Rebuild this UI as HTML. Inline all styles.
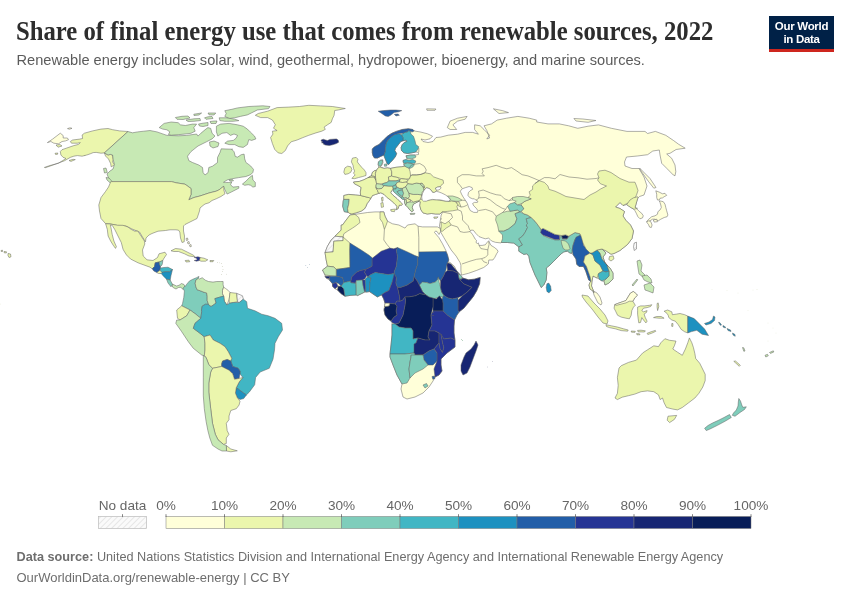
<!DOCTYPE html>
<html><head><meta charset="utf-8">
<style>
html,body{margin:0;padding:0;background:#fff;}
body{width:850px;height:600px;position:relative;overflow:hidden;will-change:transform;font-family:"Liberation Sans",sans-serif;}
.title{position:absolute;left:16px;top:15.8px;font-family:"Liberation Serif",serif;font-weight:bold;font-size:27px;color:#2d2d2d;white-space:nowrap;letter-spacing:0px;transform-origin:0 0;transform:scaleX(0.915);}
.sub{position:absolute;left:16.5px;top:51.5px;font-size:14.6px;color:#5b5b5b;white-space:nowrap;}
.logo{position:absolute;left:769px;top:16px;width:65px;height:36px;background:#002147;}
.logo .bar{position:absolute;left:0;bottom:0;width:65px;height:3px;background:#ce261e;}
.logo .t{position:absolute;left:0;top:4px;width:65px;text-align:center;color:#fff;font-size:11.5px;line-height:13px;font-weight:bold;letter-spacing:-0.3px;}
.foot{position:absolute;left:16.5px;font-size:12.7px;color:#6e6e6e;white-space:nowrap;}
svg{position:absolute;left:0;top:0;}
.lg{font-family:"Liberation Sans",sans-serif;font-size:13.6px;fill:#666;}
</style></head><body>
<div class="title" id="title">Share of final energy use that comes from renewable sources, 2022</div>
<div class="sub" id="sub">Renewable energy includes solar, wind, geothermal, hydropower, bioenergy, and marine sources.</div>
<div class="logo"><div class="t">Our World<br>in Data</div><div class="bar"></div></div>
<svg width="850" height="600" viewBox="0 0 850 600">
<g class="map" stroke="#5e5e5e" stroke-width="0.5" stroke-linejoin="round">
<path d="M56,145 60,144.6 62,146 58,147.2Z" fill="#ebf6ad"/>
<path d="M82,154 86,151.5 88.2,152 85,155.5Z" fill="#ebf6ad"/>
<path d="M69,160.5 73,159.3 75.3,159.6 71,161.4Z" fill="#ebf6ad"/>
<path d="M55,153.3 57.8,153 57.5,154.3 55.5,154.4Z" fill="#ebf6ad"/>
<path d="M103.5,168.5 106,168 107.3,172.5 104.5,173Z" fill="#c7e9b4"/>
<path d="M67.5,128.6 70,127.8 72,128.3 69.5,129.2Z" fill="#ffffd9"/>
<path d="M128,131.5 119.7,130.9 112.6,129.7 108,128.5 100.9,129.1 92.6,130.9 84.4,133.2 82.1,135 82.6,138.5 79.7,139.1 72.6,140 70.3,141.5 71.5,143.2 77.4,143.2 80.3,142.6 78.5,144.4 73.8,145.6 66.8,148 62,149.7 60.3,151.5 60.9,155 63.2,157.4 66,158.5 58.5,163.2 50,165.5 44.4,167.4 45,167.8 52.6,165.2 64.4,160.8 70.3,157.4 73.8,156.2 77.4,155.6 82.1,156.2 86.8,155 90.3,153.8 93.2,152.6 96.2,152.4 100.9,153.2 104.4,152.9Z" fill="#ebf6ad"/>
<path d="M104.4,152.9 108,155 110.3,154.4 112.6,155 113.2,159.7 112.6,162 114.4,164.4 112.6,166.2 111.2,166.8 110.6,163.5 108.5,159 105.5,156Z" fill="#ebf6ad"/>
<path d="M47.4,142.6 52.6,139.1 60.3,133.2 63.2,135.6 63.2,138 67.4,138 68.5,139.7 65.6,140.9 62,141.5 58.5,143.8 53.8,143.2 50.9,141.5Z" fill="#ffffd9"/>
<path d="M128,131.5 132.5,132.8 137.5,131.9 143.8,131.2 150,130.5 157,131.9 167,135.4 178.2,135.8 186.7,135.4 196.6,134 198,136.1 200.8,133.3 205,129.8 207.9,127.6 210.7,128.4 212.1,133.3 215,136.1 212.1,138.9 206.5,141.8 198,146 191,151.6 187.5,156.2 188.8,160.6 192.5,162.5 198.8,165 202.5,167.5 203.1,172.5 205,175 208.1,172.5 208.8,167.5 212.5,166.2 217.5,162.5 217.5,157.5 220,152.5 221.2,148.8 226,149 232.6,149.2 231.8,149.4 234.1,151.8 235.3,156.5 237.6,157.1 241.2,154.7 244.1,154.1 244.7,158.8 245.9,162.4 250.6,165.9 253.5,169.4 252.9,172.4 250.6,174.7 245.9,176.5 238.8,177.6 231.8,178.8 227.1,180 223.5,182.3 225.5,182.4 228.5,182.5 231.8,181.8 230.6,184.7 232.9,187.1 238.8,186.5 238.8,188.2 231.8,191.8 227.1,194.1 225.9,191.8 224.7,189.4 223.5,186.5 218.8,190 216.2,191.2 209,193 200,196 194,197.5 188.8,199.8 191,194.5 191,188.5 185,184.2 176,182.8 171.5,181.6 110.8,181.6 108.5,178 107,174 110,171 113,169 114.4,164.4 113.2,159.7 112.6,155 110.3,154.4 108,155 104.4,152.9Z" fill="#c7e9b4"/>
<path d="M242.4,184.1 245.9,181.2 249.4,177.6 252.4,175.3 252.9,180 255.3,182.4 255.3,186.5 252.9,187.1 250.6,185.3 248.2,184.7 244.7,185.3Z" fill="#c7e9b4"/>
<path d="M229,179.8 232.5,179.5 233.5,180.8 230,181Z" fill="#c7e9b4"/>
<path d="M106,177.5 109,178 113.5,183 114.5,185 112,184.5 107,180Z" fill="#c7e9b4"/>
<path d="M159.2,127.6 164.1,123.4 171.2,122 178.2,122.7 180.4,124.8 185.3,125.5 192.4,124.1 196.6,124.1 193.8,127.6 195.2,131.2 191,133.3 185.3,134 178.2,134.7 171.2,135.2 168.4,134.5 169.8,131.9 166.9,129.8 162.7,129.1Z" fill="#c7e9b4"/>
<path d="M216.4,126.2 220.6,124.1 229.1,123.4 237.5,124.8 243.2,126.2 247.4,129.1 250.2,131.9 254.5,136.1 255.9,138.9 251.7,140.4 248.8,139.6 247.4,144.6 243.2,147.4 238.9,146.7 234.7,144.6 229.1,144.6 224.8,143.2 227.6,141.1 233.3,140.4 236.1,138.2 237.5,135.4 234,134 230.5,135.4 226.9,132.6 222,133.3 217.8,136.1 216.4,131.9Z" fill="#c7e9b4"/>
<path d="M224.8,110.7 231.9,109.3 237.5,107.9 248.8,106.5 262.9,105.8 270,106.5 268.6,108.6 257.3,110 251.7,112.8 247.4,114.9 240.4,116.4 234.7,117.8 229.1,118.5 224.8,116.4 226.2,113.5Z" fill="#c7e9b4"/>
<path d="M219.2,117.8 226.2,117.8 234.7,119.2 238.9,120.6 233.3,121.3 224.8,121.3 219.9,120.6Z" fill="#c7e9b4"/>
<path d="M175.4,117.5 182,116.3 188,116 190,118 183,119.5 177,119.3Z" fill="#c7e9b4"/>
<path d="M186,120 194,118.8 200,118.5 200.5,120.5 194,121.3 188,121.5Z" fill="#c7e9b4"/>
<path d="M204.5,117.8 208,116.8 212,116.5 213,118.5 206,119.3Z" fill="#c7e9b4"/>
<path d="M198.5,124 203,123.2 208,122.5 208,125.5 203,126.5 199.5,126Z" fill="#c7e9b4"/>
<path d="M210,121.5 214,121 217,121 216,123.5 211,123.5Z" fill="#c7e9b4"/>
<path d="M193.8,114.2 201.6,113 199,115 194,115.5Z" fill="#c7e9b4"/>
<path d="M208,113 215.8,113 214,115 209,114.8Z" fill="#c7e9b4"/>
<path d="M209.5,142 214,141 219,143 218,146.5 213,148 210,146Z" fill="#c7e9b4"/>
<path d="M110.8,181.6 171.5,181.6 176,182.8 185,184.2 191,188.5 191,194.5 188.8,199.8 194,197.5 200,196 209,193 216.2,191.2 218.8,190 223.8,186.2 223.8,190 225,193.8 221,196.5 216.2,198.8 212,200.5 209,202.8 205,204 203,205.5 200,208 199.5,211 198.5,214 197,218.5 191,221.5 185,224.5 183.5,226 183.5,231 184.5,236 184.2,241.8 182,242.5 180.5,238 179.8,232 178.5,230.2 176,229.8 170,229.8 165.5,230.5 158,231.2 152,233.5 149,235 146,238 145.5,241.8 144,239.5 139.5,232 132,229 126,226 117.5,225.5 110,223.8 105.6,223.7 101,218.5 99.5,211 98.8,205 101,197.5 105.5,191.5 108.5,187Z" fill="#ebf6ad"/>
<path d="M105.6,223.7 110,224 117.5,225.2 123,225.3 127.9,227 131.2,229.4 134.5,231.1 137.8,231.1 141.1,236 144.4,241 144.8,244 142.5,250 143.2,256 147,259.8 153,260.5 157.5,257.5 159,253.8 165,252.2 166.5,254.5 163.5,259 162.8,260.5 159.8,262 159,262 155.2,262.8 154.5,266.5 152.2,268.8 150,267.2 144,265 138,262.8 130.5,259 126.5,255 124,251 123,249.2 121.3,242.6 118,236 114.7,229.4 112.2,225.3 110.3,225 111,227.8 112.2,234.4 113.9,241 116.4,246.7 115.5,248.4 113.1,245.1 110.6,241 108.1,236 107.3,229.4Z" fill="#ebf6ad"/>
<path d="M155.2,262.8 159,262 159.8,265 160.5,266.5 160.5,268 159.8,270.2 159,271 156.8,272.5 153.8,271 152.2,268.8 154.5,266.5Z" fill="#225ea8"/>
<path d="M159,262 162.8,260.5 162.5,263 162,265 160.5,266.5 159.8,265Z" fill="#7fcdbb"/>
<path d="M160.5,268 164,267.5 168,267.2 172.5,269.5 169.5,271.8 165,271.8 162,272.5 159.8,270.2Z" fill="#41b6c4"/>
<path d="M156.8,272.5 159,271 159.8,270.2 162,272.5 161.2,273.5 158.5,273.5Z" fill="#ebf6ad"/>
<path d="M162,272.5 165,271.8 169.5,271.8 172.5,269.5 171,275.5 170.2,280 166.5,279.2 163.5,276.2 161.2,273.5Z" fill="#1d91c0"/>
<path d="M166.5,279.2 170.2,280 172.5,284.5 171,286.8 168,283Z" fill="#7fcdbb"/>
<path d="M172.3,284 174,284.8 176.5,286 179,285.3 181.5,283.5 184,284.5 185.1,286.6 184.5,288.5 182.5,289.2 181,287.2 178.5,287.5 176,289 174,288 172.5,287Z" fill="#c7e9b4"/>
<path d="M171,250.8 175.5,248.5 181.5,249.2 187.5,252.2 193.5,255.2 195,256.8 189,256 184.5,253.8 178.5,251.5 174,251.5Z" fill="#ebf6ad"/>
<path d="M194.2,257.5 198,256.8 200.2,257.5 199.5,260.5 196.5,261.2 194.2,260.5 197.2,259.8 196.5,258.2Z" fill="#253494"/>
<path d="M200.2,257.5 204,258.2 207.8,259.8 205.5,261.2 201,261.2 199.5,260.5Z" fill="#ebf6ad"/>
<path d="M185.2,260.5 189,260.2 189.8,261.7 186,262Z" fill="#ebf6ad"/>
<path d="M210,260.5 213.8,260.5 213,261.7 210,261.7Z" fill="#ebf6ad"/>
<circle cx="219.5" cy="262.8" r="0.4" fill="#b9bba5" stroke="none"/>
<circle cx="221.3" cy="263.5" r="0.4" fill="#b9bba5" stroke="none"/>
<circle cx="222.3" cy="266.5" r="0.4" fill="#b9bba5" stroke="none"/>
<circle cx="223.0" cy="269.5" r="0.4" fill="#b9bba5" stroke="none"/>
<circle cx="222.5" cy="271.5" r="0.4" fill="#b9bba5" stroke="none"/>
<circle cx="221.5" cy="274.5" r="0.4" fill="#b9bba5" stroke="none"/>
<circle cx="226.5" cy="274.2" r="0.4" fill="#b9bba5" stroke="none"/>
<circle cx="217.5" cy="262.5" r="0.4" fill="#b9bba5" stroke="none"/>
<path d="M1,250.5 2.5,250.2 2.5,251.5 1.2,251.5Z" fill="#ebf6ad"/>
<path d="M4,251.5 6.5,251.8 6.3,253 4.2,252.8Z" fill="#ebf6ad"/>
<path d="M8,253.5 10.5,254 11,256.8 9,257.5 8,255.5Z" fill="#ebf6ad"/>
<path d="M186,238.5 187.5,238 188,240 186.5,240.5Z" fill="#ffffd9"/>
<path d="M187.5,242 189,241.5 189.5,243.5 188,244Z" fill="#ffffd9"/>
<path d="M189.5,245 191,244.5 191.3,246.5 190,246.8Z" fill="#ffffd9"/>
<path d="M185.1,286.6 186.3,284.7 189.5,280.9 192.7,279.3 196.5,277.7 199,276.4 198.4,278.3 195.8,280.2 195.2,283.4 195.8,286.6 197.1,289.7 200.9,291 204.1,292.3 206.6,292.9 207.2,296.1 207.2,300.5 208.5,304.3 205.3,304.3 202.2,306.2 201.5,310 201.7,311.7 200.8,318.3 195.8,314.2 190,310 181.7,305.8 182.5,303.7 183.8,297.3 184.4,291 183,288.2 184.5,286.5Z" fill="#7fcdbb"/>
<path d="M199.6,279 202.2,277.7 205.3,280.2 208.5,281.5 213,282.1 216.8,281.5 220.6,281.5 223.1,281.5 223.1,284.7 223.7,287.2 222.5,290.4 222.5,293.5 223.7,296.1 219.3,297.3 214.9,298.6 216.1,303 211.7,306.2 209.8,306.2 208.5,304.3 207.2,300.5 207.2,296.1 206.6,292.9 204.1,292.3 200.9,291 197.1,289.7 195.8,286.6 195.2,283.4 195.8,280.2 198.4,278.3Z" fill="#c7e9b4"/>
<path d="M223.7,287.2 225.6,288.5 228.2,290.4 230,292.5 229.2,299.2 226.9,305 224.4,301.2 223.7,296.1 222.5,293.5 222.5,290.4Z" fill="#ffffd9"/>
<path d="M230,292.5 236.7,293.3 237.5,301.7 233.3,302.5 229.2,303.3 229.2,299.2Z" fill="#ebf6ad"/>
<path d="M236.7,293.3 242.5,295.8 243.3,299.2 239.2,302.5 237.5,301.7Z" fill="url(#hatch)"/>
<path d="M181.7,305.8 190,310 186.7,315.8 180,320 177.5,318.3 176.7,310Z" fill="#ebf6ad"/>
<path d="M176.7,320 180,320 186.7,315.8 190,310 195.8,314.2 200.8,318.3 195,323.3 193.3,328.3 200,333.3 204.2,336.7 205,343.3 205,350 204.3,355.8 203.3,355.5 201.7,355 193.3,348.3 188.3,341.7 181.7,331.7 175.8,323.3Z" fill="#c7e9b4"/>
<path d="M200.8,318.3 201.7,311.7 201.5,310 202.2,306.2 205.3,304.3 208.5,304.3 209.8,306.2 211.7,306.2 216.1,303 214.9,298.6 219.3,297.3 223.7,296.1 224.4,301.2 226.9,305 229.2,303.3 233.3,302.5 239.2,302.5 243.3,299.2 246.7,301.7 247.5,308.3 255,310.8 261.7,314.2 268.3,315.8 275,318.3 281.7,323.3 282.5,330 278.3,336.7 275,343.3 274.5,350 273,359.2 269.3,368.3 260.2,372 255.6,377.5 254.7,384.8 249.2,392.2 246.4,394.9 243.7,393.1 236.3,387.6 239.1,382.1 242.8,377.5 240,373.8 240,371.1 238.2,368.3 235.4,367.4 232.7,366.5 230.8,361 231.7,358.3 228.3,351.7 225,346.7 220,343.3 213.3,340 210,335 204.2,336.7 200,333.3 193.3,328.3 195,323.3Z" fill="#41b6c4"/>
<path d="M204.2,336.7 210,335 213.3,340 220,343.3 225,346.7 228.3,351.7 231.7,358.3 230.8,361 227.2,359.5 222.6,361 221.7,363.8 221.7,366.5 212.5,368.3 208.8,364.7 206,357.3 204.3,355.8 205,350 205,343.3Z" fill="#ebf6ad"/>
<path d="M222.6,361 227.2,359.5 230.8,361 232.7,366.5 238.2,368.3 240,371.1 240,373.8 239.1,378.4 234.5,379.3 232.7,373.8 229,370.2 223.5,367.4 221.7,366.5 221.7,363.8Z" fill="#225ea8"/>
<path d="M236.3,387.6 243.7,393.1 246.4,394.9 243.7,398.6 240,399.5 237.3,397.7 235.4,393.1Z" fill="#1d91c0"/>
<path d="M212.5,368.3 221.7,366.5 223.5,367.4 229,370.2 232.7,373.8 234.5,379.3 239.1,378.4 242.8,377.5 239.1,382.1 236.3,387.6 235.4,393.1 237.3,397.7 240,401.3 239.1,405 236.3,408.7 230.8,410.5 229,416 229,419.7 226.3,423.3 227.2,430.7 229,434.3 226.3,438 226.3,443.5 223.5,444.4 218,439.8 215.3,434.3 212.5,423.3 210.7,408.7 208.8,392.2 208.8,383 210.7,372Z" fill="#ebf6ad"/>
<path d="M226.3,445.5 230.8,449 237.3,450.8 230.8,451.8 226.5,451Z" fill="#ebf6ad"/>
<path d="M203.3,355.5 206,357.3 208.8,364.7 212.5,368.3 210.7,372 208.8,383 208.8,392.2 210.7,408.7 212.5,423.3 215.3,434.3 218,439.8 223.5,444.4 226.3,445.5 226.5,451 222,451 218,449 212.5,445.3 209.8,438 207.9,430.7 206.1,421.5 204.3,408.7 203.3,395.8 203.3,377.5 203.3,359.2Z" fill="#c7e9b4"/>
<path d="M615,398 617.4,393.3 618.2,385.4 617.4,377.5 619,368 621.4,365.6 628.5,362.4 636.4,360.1 642.7,352.9 647.5,349.8 653.8,345.8 658.5,346.6 660.9,342.7 664.9,338.7 669.6,340.3 676,341.1 674.4,345.8 672.8,349 677.5,352.2 682.3,355.3 685.4,349 687.8,342.7 689.4,337.9 691.8,342.7 693.4,347.4 694.9,353.7 695.7,358.5 699.7,363.2 702.1,368 705.2,374.3 705.2,380.6 702.8,387 698.9,393.3 694.9,398 688.6,402.8 682.3,407.5 677.5,409.9 672.8,409.1 666.5,407.5 664.1,402.8 662.5,398 660.1,399.6 658.5,394.9 653.8,391.7 647.5,390.9 641.1,391.7 634.8,394.1 628.5,395.7 622.2,397.2 617.4,399.6Z" fill="#ebf6ad"/>
<path d="M668,416.2 676.7,415.4 674.4,419.4 669.6,422.6 667.2,420.2Z" fill="#ebf6ad"/>
<path d="M738.8,398.5 740.5,401 741.8,405 742.8,407.3 746.3,406.8 744.5,409.5 740,412.5 735,416.3 732.3,415.3 733.5,413 736.3,410 738,406 738.3,402Z" fill="#7fcdbb"/>
<path d="M729.5,414.5 731.3,417.5 725,421.3 717.5,425.3 710,429 706.3,430.6 704.6,428.3 708,425.5 712.5,423 718,420.5 724,417.5Z" fill="#7fcdbb"/>
<path d="M733.8,361.3 735.5,361 740.3,365.3 739.3,366.3Z" fill="#ebf6ad"/>
<path d="M742.5,347.5 743.8,347.8 745,351 743.8,351.3Z" fill="#c7e9b4"/>
<path d="M765,355.3 767.5,354.3 768.3,355.8 765.8,357Z" fill="#c7e9b4"/>
<path d="M769.5,352.5 773.3,350.8 773.8,352 770.5,353.4Z" fill="#c7e9b4"/>
<circle cx="712" cy="289.5" r="0.35" fill="#cfd6b0" stroke="none"/>
<circle cx="727" cy="290.5" r="0.35" fill="#cfd6b0" stroke="none"/>
<circle cx="738" cy="293" r="0.35" fill="#cfd6b0" stroke="none"/>
<circle cx="753" cy="290" r="0.35" fill="#cfd6b0" stroke="none"/>
<circle cx="757" cy="289.7" r="0.35" fill="#cfd6b0" stroke="none"/>
<circle cx="748" cy="310.5" r="0.35" fill="#cfd6b0" stroke="none"/>
<circle cx="768" cy="323" r="0.35" fill="#cfd6b0" stroke="none"/>
<circle cx="773" cy="328" r="0.35" fill="#cfd6b0" stroke="none"/>
<circle cx="776" cy="333" r="0.35" fill="#cfd6b0" stroke="none"/>
<circle cx="768" cy="341" r="0.35" fill="#cfd6b0" stroke="none"/>
<circle cx="0.6" cy="304" r="0.35" fill="#cfd6b0" stroke="none"/>
<path d="M267.6,111.2 277.1,107.6 288.8,107.1 299.4,106.5 308.8,105.3 320.6,105.9 332.4,106.5 345.3,108.5 338.2,110 334.7,110.5 334.1,115.3 332.4,118.8 331.2,122.4 327.6,124.7 324.1,127.1 325.3,129.4 321.8,131.2 315.9,132.9 308.8,135.3 302.9,137.6 297.1,140 291.2,141.8 287.6,145.9 285.3,150.6 281.8,153.5 278.2,152.9 274.7,149.4 272.4,143.5 270.6,137.6 272.9,134.1 272.4,131.2 277.1,130.6 273.5,128.2 275.3,124.7 272.4,120 267.6,117.6 260.6,117.6 255.3,115.3 258.2,113.5Z" fill="#ebf6ad"/>
<path d="M349.7,213.4 348.1,212.3 344.3,211.7 342.7,206.3 343.2,200.9 343.8,199.3 343.8,197.7 343.8,195.5 348.7,194.4 355.2,195 360.6,195.5 360.3,192 361.2,187.5 358,185.5 354.5,183.8 353.5,182 359.5,181.4 363.8,179.8 368.2,177.6 371.4,175.8 372.5,172.2 374.7,170.6 376.5,170.2 378.7,167.3 378.1,164.1 378.7,161.9 380.3,160.3 382.5,159.7 383,162.5 381.9,165.2 380.3,166.8 384.1,168.4 387.3,167.9 390.6,168.4 396,167.3 401.4,166.8 404.7,166.2 403.6,164.6 403.6,163.5 403,160.8 405.7,159.7 406.8,158.7 406,155.8 410.5,155 415,155 418.5,154.5 418.5,152.5 415.8,152 412,152.8 407.5,153.5 403.8,152.8 401.5,150.5 401.1,147.5 402.3,144.5 404.5,142.3 406.8,141.5 406,140 403,140.8 400.8,141.5 398.5,144.5 395.5,148.3 394.8,150.5 396.6,153.5 395.5,156.5 392.5,160.3 390.3,162.5 388.8,164.4 387.3,164 385.8,160.3 384.3,156.5 383.9,155 380.5,156.5 377.5,158 374.5,158 373,155.8 372.3,152.8 372.3,149 374.5,146.8 379,144.5 382.8,140.8 387.3,136.3 391.8,133.3 396.3,131.4 402.3,129.5 408.3,128.8 412.8,129.5 414.3,131 420,131.9 427.5,133.8 432.5,136.2 430,138.8 425,140 421,139 423,141.5 428,142.5 433,141.5 436,137.5 440.7,137.1 448.2,135.2 457.6,134.2 465.2,132.4 472.7,132.4 478.4,134.2 474.6,129.5 474.6,124.8 480.2,125.8 484,129.5 489.6,135.2 486.8,138.9 489.6,138 486.8,130.5 484,125.8 491.5,123.9 497.2,120.1 506.6,118.2 517.9,116.4 529.2,118.2 536.7,120.1 536.7,122 548,123.9 559.3,123.9 568.7,125.8 577.8,128.3 588.1,126.2 598.5,124.9 611.4,128.3 626.9,131.4 645,131.4 647.6,133.5 655.4,131.4 665.8,135.3 673.5,140.5 678.7,144.3 685.2,148.2 676.1,149.5 670,153.3 666.7,154 671.7,158.3 675,165 675.8,171.7 675,175.8 673.3,175 666.7,168.3 661.7,163.3 660,155 659.3,150 652.8,151 647.6,154.7 637.3,156 626.5,157 624.5,162 625,166 632,168.5 639,168.5 644,177 647,186 644,195 639.5,196.5 638,198 637.9,197.9 636.7,201.7 635.8,205 635,207.5 636.7,208.8 639.2,211.3 641.7,213.3 643.3,215.8 642.5,217.9 640,218.8 637.9,216.7 636.3,213.3 635,210.8 633.3,208.8 630.8,207.5 628.3,205.8 626.7,204.6 623,205.5 620,202.5 615.5,207 620,208.5 624.5,211.5 623,216 626,220.5 630.5,225 633.5,231 632,238.5 627.5,244.5 620,250.5 614,253.5 611,254.2 606.5,251.2 602,249 606,253 603,257 605,263 610,268 613,273 613,279 609,283 605,285 604,281 602,281 599,279 597,278 593,276 592,281 591.5,286 593.5,291 597,293 600,297 602,303 601,305 598,303 596,299 594,295 593,291 590,289 589,285 591,281.5 588.7,280 585.7,271 583.5,266.5 579,266.5 576.7,264.2 576,259 573,254.5 572,253.5 570,253.1 567.5,251.2 563.8,251.9 561.2,253.8 558.8,256.2 553.8,261.2 550,265 546.2,268.1 546.9,272.5 546.2,280 543.8,285 541.2,287.5 537.5,280 535,275 532.5,268.8 530,262.5 528.8,256.2 526.9,253.8 523.8,254.4 518.8,251.2 518.8,246.9 513.8,243.1 507.5,242.5 501.2,242.5 500.5,242.9 495.4,242.3 491.6,241 490.4,239.7 488.5,238.1 485.3,238.8 482.2,237.8 479,236.6 475.8,233.4 473.3,230.2 470.8,230.2 470.1,231.5 472.7,234.7 475.2,239.1 476.5,240.4 476,242.5 477.5,243.5 478.4,242.9 479,245.4 482.2,245.4 485.3,244.8 487.2,242.3 488.8,240.7 489.7,242.9 491,245.4 494.2,247.3 497.3,249.8 498,251.7 496.7,253.6 494.8,257.4 492.9,260 488.8,260 488.3,264 483.7,267.5 476.7,270.4 468.5,273.3 461.5,275.1 460.9,271 460.9,265.2 460,262.5 456.2,256.2 451.2,250 447.5,243.8 443.8,237.5 440.6,231.9 440.3,229 439.4,226.2 440,222.5 440.6,218.8 441.2,215 441.9,213.8 442.1,211.9 439.9,214 435.7,214 431.5,213.5 427.2,214 423,212.9 420.9,209.8 419.8,205.5 420.4,201.8 419.5,200.8 415.5,203.1 413.3,204.2 412.2,207.4 413.3,210.7 411.7,211.7 409.5,209.6 407.9,207.4 405.7,205.2 404.7,203.1 404.4,201 404.7,199.3 402.5,199.3 401.4,198.2 398.2,195.5 395.5,193.3 393.3,191.2 393.3,189 391.7,190.6 390.6,192.8 393.3,195.5 397.1,198.7 400.3,202 402.5,204.2 401.4,205.2 399.2,205.2 398.2,208.5 396.5,209.6 397.1,206.3 394.9,204.2 391.7,200.9 387.3,197.7 384.1,194.4 380.8,192.8 378.9,193.3 375.7,194.4 372.5,195.5 370.9,198.2 369.2,200.9 367.1,203.6 366,206.3 364.4,209 361.1,211.2 356.2,212.8 351.9,213.9Z" fill="#ffffd9"/>
<path d="M343.8,199.3 349.2,199.3 348.7,204.2 347.6,208.5 348.1,212.3 344.3,211.7 342.7,206.3 343.2,200.9Z" fill="#7fcdbb"/>
<path d="M343.8,195.5 348.7,194.4 355.2,195 360.6,195.5 364.9,196.6 369.2,197.7 370.9,198.2 369.2,200.9 367.1,203.6 366,206.3 364.4,209 361.1,211.2 356.2,212.8 351.9,213.9 349.7,213.4 348.1,212.3 347.6,208.5 348.7,204.2 349.2,199.3 343.8,199.3 343.8,197.7Z" fill="#ebf6ad"/>
<path d="M353.5,182 359.5,181.4 363.8,179.8 368.2,177.6 371.4,175.8 374.3,177.1 376,180.3 376.5,183.6 376,185.7 376,187.9 377.6,190.6 378.1,192.2 378.9,193.3 375.7,194.4 372.5,195.5 370.9,198.2 369.2,197.7 364.9,196.6 360.6,195.5 360.3,192 361.2,187.5 358,185.5 354.5,183.8Z" fill="#ebf6ad"/>
<path d="M368.2,177.6 371.4,175.8 373.5,176 375.5,177 376,180.3 374.3,177.1Z" fill="#ebf6ad"/>
<path d="M371.4,175.8 372.5,172.2 374.7,170.6 376.5,170.4 375.4,173.3 375.5,177 373.5,176Z" fill="#ebf6ad"/>
<path d="M376.5,170.2 378.7,167.3 380.3,167.3 384.1,168.4 387.3,167.9 390.6,168.4 391.7,171.7 391.7,176 388.4,177.1 389,180.9 386.8,182.5 383,183.6 379.7,184.1 376.5,183.6 376,180.3 375.5,177 375.4,173.3Z" fill="#ebf6ad"/>
<path d="M378.3,161.8 380.5,160.3 382.8,160.3 382.4,162.5 381.3,165.5 379.4,166.3 378.3,164.8Z" fill="#7fcdbb"/>
<path d="M390.6,168.4 396,167.3 401.4,166.8 404.7,166.2 406.8,166.2 409,168.4 410.1,171.7 410.6,176 409.5,178.7 405.7,179.2 401.4,178.7 398.2,177.6 392.7,176.5 391.7,176 391.7,171.7Z" fill="#ebf6ad"/>
<path d="M388.4,177.1 391.7,176 392.7,176.5 398.2,177.6 399.8,179.8 396,180.9 391.7,180.9 389,180.9Z" fill="#ebf6ad"/>
<path d="M399.8,179.8 401.4,178.7 405.7,179.2 408.4,179.8 406.8,182 402.5,182.5 399.2,182Z" fill="#ebf6ad"/>
<path d="M383,183.6 386.8,182.5 389,180.9 391.7,180.9 396,180.9 399.8,179.8 399.2,182 397.1,182.5 396,184.7 392.7,186.3 388.4,186.3 384.1,185.7 381.9,184.7Z" fill="#7fcdbb"/>
<path d="M376.5,183.6 379.7,184.1 381.9,184.7 384.1,185.7 381.9,188.4 378.7,189 376,187.9 376,185.7Z" fill="#c7e9b4"/>
<path d="M376,187.9 378.7,189 381.9,188.4 384.1,185.7 388.4,186.3 392.7,186.3 393.3,189 391.7,190.6 390.6,192.8 393.3,195.5 397.1,198.7 400.3,202 402.5,204.2 401.4,205.2 399.2,205.2 398.2,208.5 396.5,209.6 397.1,206.3 394.9,204.2 391.7,200.9 387.3,197.7 384.1,194.4 380.8,192.8 378.9,193.3 378.1,192.2 377.6,190.6Z" fill="#ebf6ad"/>
<path d="M392.7,186.3 396,184.7 396.5,186.8 396,189 393.3,189Z" fill="#7fcdbb"/>
<path d="M397.1,182.5 399.2,182 402.5,182.5 406.8,182 407.9,183.6 405.7,186.8 402.5,188.4 399.2,188.4 396.5,186.8 396,184.7Z" fill="#ebf6ad"/>
<path d="M393.3,189 396,189 396.5,186.8 399.2,188.4 402.5,188.4 402.5,189.5 399.2,190.6 397.1,191.7 399.2,194.4 402.5,197.7 401.4,198.2 398.2,195.5 395.5,193.3 393.3,191.2Z" fill="#7fcdbb"/>
<path d="M397.1,191.7 399.2,190.6 402.5,190.1 403.6,193.3 402.5,196.6 399.2,194.4Z" fill="#7fcdbb"/>
<path d="M402.5,189.5 402.5,188.4 405.7,186.8 407.4,190.1 409,193.3 409.5,196.6 407.9,198.7 405.7,197.7 403.6,197.7 402.5,196.6 403.6,193.3 402.5,190.1Z" fill="#c7e9b4"/>
<path d="M402.5,196.6 403.6,197.7 404.7,199.3 402.5,199.3 401.4,198.2Z" fill="#7fcdbb"/>
<path d="M404.7,199.3 406.3,199.8 406.8,203.1 405.7,205.2 404.7,203.1 404.4,201Z" fill="#c7e9b4"/>
<path d="M406.3,199.8 405.7,197.7 407.9,198.7 410.6,199.8 410.1,202 407.4,202.5 406.8,203.1Z" fill="#ebf6ad"/>
<path d="M406.8,203.1 407.4,202.5 410.1,202 413.3,202 417.7,200.9 419.5,200.8 415.5,203.1 413.3,204.2 412.2,207.4 413.3,210.7 411.7,211.7 409.5,209.6 407.9,207.4 405.7,205.2Z" fill="#c7e9b4"/>
<path d="M409,193.3 413.3,194.4 417.7,194.4 422,194.9 420.9,197.7 419.8,200.4 417.7,200.9 413.3,202 410.6,199.8 407.9,198.7 409.5,196.6Z" fill="#ebf6ad"/>
<path d="M407.9,183.6 412.2,184.1 416.6,183 419.8,183.6 423.1,186.8 424.2,190.1 422,192.2 422,194.9 417.7,194.4 413.3,194.4 409,193.3 407.4,190.1 405.7,186.8Z" fill="#c7e9b4"/>
<path d="M419.8,183.6 422,183 424.2,185.7 424.7,187.9 423.1,186.8Z" fill="#c7e9b4"/>
<path d="M409.5,178.7 410.6,176 411.7,174.9 416.6,174.9 420.9,174.4 425.2,172.7 427.2,173.2 430.4,173.8 433.6,176.9 439.9,179.1 443.1,180.1 443.6,183.3 441,185.4 440.4,186.7 437.6,187.1 435.1,188.5 436.9,190.2 436.2,191.3 434.4,192.4 432.6,192.4 430.9,189.9 429.1,188.5 426.6,187.8 424.2,189.9 424.2,190.1 423.1,186.8 424.7,187.9 424.2,185.7 422,183 419.8,183.6 416.6,183 412.2,184.1 407.9,183.6 406.8,182 408.4,179.8Z" fill="#ebf6ad"/>
<path d="M404.5,163.6 407.5,162.9 412,163.6 414.3,164.8 412.8,167 409.8,168.5 406,167 404.1,165.5Z" fill="#7fcdbb"/>
<path d="M403,160.3 406,159.5 409,160.3 412.8,159.5 415.8,161 415,163.3 412,163.3 407.5,162.5 404.5,163.3 403.4,162.5Z" fill="#41b6c4"/>
<path d="M406,155.8 410.5,155 415,155 416,157 414.3,158 411.3,158.8 407.5,158.8Z" fill="#7fcdbb"/>
<path d="M403,133.3 405.3,132.1 407.5,131.8 408.3,130.6 410.5,131 410.9,134 413.5,136.3 415,140.8 415.8,144.5 418.8,146.8 418,149 415.8,152 412,152.8 407.5,153.5 403.8,152.8 401.5,150.5 401.1,147.5 402.3,144.5 404.5,142.3 406.8,141.5 406,140 403,140.8 403,137.8 401.5,134.8Z" fill="#41b6c4"/>
<path d="M385.4,147.5 386.1,143 388,140 391,137 394.8,134.4 398.5,133.6 401.5,134.8 403,137.8 403,140.8 400.8,141.5 398.5,144.5 395.5,148.3 394.8,150.5 396.6,153.5 395.5,156.5 392.5,160.3 390.3,162.5 388.8,164.4 387.3,164 385.8,160.3 384.3,156.5 383.9,155 385,152Z" fill="#1d91c0"/>
<path d="M372.3,149 374.5,146.8 379,144.5 382.8,140.8 387.3,136.3 391.8,133.3 396.3,131.4 402.3,129.5 408.3,128.8 412.8,129.5 414.3,131 412,132.1 410.5,131 408.3,130.6 407.5,131.8 405.3,132.1 403,133.3 398.5,133.6 394.8,134.4 391,137 388,140 386.1,143 385.4,147.5 385,152 383.9,155 380.5,156.5 377.5,158 374.5,158 373,155.8 372.3,152.8Z" fill="#225ea8"/>
<path d="M418.4,201.6 420.5,199.3 422.5,199.2 425.1,200.8 430.4,199.7 436.8,199.7 443.1,200.8 448.4,201.3 451.6,200.8 455.8,201.8 457.9,204.5 456.9,206.6 457.9,209.8 452.6,210.8 447.4,211.4 442.1,211.9 439.9,214 435.7,214 431.5,213.5 427.2,214 423,212.9 420.9,209.8 419.8,205.5 420.4,201.8Z" fill="#ebf6ad"/>
<path d="M447.4,196 452.6,196 457.9,197.6 462.2,200.2 459,201.3 455.8,201.3 451.6,200.8 448.4,201.3 450.5,199.2Z" fill="#c7e9b4"/>
<path d="M455.8,201.8 459,201.8 460.1,204.5 461.1,207.1 457.9,205.5 457.9,204.5Z" fill="#ebf6ad"/>
<path d="M441.2,221.9 445,223.8 448.8,221.2 451.2,225 446.2,228.1 442.5,231.2 440.6,231.2 441.2,226.2Z" fill="#ebf6ad"/>
<path d="M496.2,216.2 502.5,212.5 507.5,211.2 510,211.2 513.8,210.6 517.5,210 520,211.9 515,213.8 516.9,218.8 515,223.8 508.8,228.8 503.8,231.2 498.8,231.2 497.5,225 495.6,220Z" fill="#c7e9b4"/>
<path d="M498.8,231.2 503.8,231.2 508.8,228.8 515,223.8 516.9,218.8 515,213.8 520,211.9 523.8,213.8 527.5,215 531.2,217.5 526.2,218.8 527.5,223.8 526.2,225 527.5,227.5 525,232.5 522.5,236.2 518.8,238.8 522.5,245 518.8,246.9 513.8,243.1 507.5,242.5 501.2,242.5 502.5,238.8 502.5,235Z" fill="#7fcdbb"/>
<path d="M531.2,217.5 535,221.2 538.8,226.2 541.2,230 541,233 543,235.5 549,238 555,240 559.5,240 560.5,235.6 561.5,235.6 562.5,239.2 567,239.2 568.8,236.2 575,232.5 580,233.8 580.5,235 575,239 573,245.5 572.2,250 572,253 570,253.1 567.5,251.2 563.8,251.9 561.2,253.8 558.8,256.2 553.8,261.2 550,265 546.2,268.1 546.9,272.5 546.2,280 543.8,285 541.2,287.5 537.5,280 535,275 532.5,268.8 530,262.5 528.8,256.2 526.9,253.8 523.8,254.4 518.8,251.2 518.8,246.9 522.5,245 518.8,238.8 522.5,236.2 525,232.5 527.5,227.5 526.2,225 527.5,223.8 526.2,218.8Z" fill="#7fcdbb"/>
<path d="M561,240.2 565.5,241 568.5,244 570,248.5 568.5,250 565.5,250 563.2,248.5 561.7,244Z" fill="#c7e9b4"/>
<path d="M541.5,229.2 543,228.4 549,231.4 555,234.4 559.5,235.2 559.5,239.5 555,239.5 549,237.2 543,235 540.7,232.7Z" fill="#253494"/>
<path d="M561.7,235.7 565.5,235 568.5,236.5 567,238.7 562.5,238.7Z" fill="#081d58"/>
<path d="M576,237.2 580.5,235 582.7,239.5 583.5,245.5 588,250 591,253 585,256 583.5,262 586.5,266.5 588,271 590.2,277 591,281.5 588.7,280 585.7,271 583.5,266.5 579,266.5 576.7,264.2 576,259 573,254.5 572.2,250 573,245.5 574.5,241Z" fill="#225ea8"/>
<path d="M585,256 590,253 593,255 595,261 600,265 603,271 599,273 597,278 593,276 592,281 591.5,286 593.5,291 594,293 593,291 590,289 589,285 590,282 591,281.5 590.2,277 588,271 586.5,266.5 583.5,262Z" fill="#ebf6ad"/>
<path d="M590,253 592,253 597,250 600,253 602,259 607,265 609,271 606,272 603,271 600,265 595,261 593,255Z" fill="#1d91c0"/>
<path d="M597,250 602,249 606,253 603,257 605,263 610,268 613,273 613,279 609,283 605,285 604,281 606,279 609,276 609,271 607,265 602,259 600,253Z" fill="#c7e9b4"/>
<path d="M598,274 603,271 606,272 609,271 609,276 606,279 602,281 599,279Z" fill="#41b6c4"/>
<path d="M539.1,180.6 544.4,182.4 547.9,185.9 549.1,189.4 555,191.2 560,193.5 566,196.5 575,198 584,199.5 590,195 596,192 600.5,189 606.5,186 600.5,183.8 597.5,180 599,177.8 597.5,174 599,171 605,170.2 611,172.5 620,178.5 629,182.2 635,182.2 636.5,186 638,190.5 636.5,195 635,198 633.5,199.5 630.5,201.8 626,204 623,205.5 620,202.5 615.5,207 620,208.5 624.5,211.5 623,216 626,220.5 630.5,225 633.5,231 632,238.5 627.5,244.5 620,250.5 614,253.5 611,254.2 606.5,251.2 602,249 597,250 592,253 590,253 586,249 583,243 581,236 580,233.8 575,232.5 568.8,236.2 565.5,234.8 561.7,235.5 559.5,235.2 555,234.4 549,231.4 543,228.4 541.2,229.5 538.8,226.2 535,221.2 531.2,217.5 527.5,215 523.8,213.8 521.2,211.2 523.8,208.8 521.2,205 521.2,203.8 525,201.2 531.2,198.8 527.9,197.6 530.3,195.3 529.1,191.8 532.6,189.4 532.6,185.9 535,183.5Z" fill="#ebf6ad"/>
<path d="M626.7,204.6 630,200 633.3,197.9 637.5,196.7 637.9,197.9 636.7,201.7 635.8,205 635,207.5 637.5,208.3 634.6,209.2 633.3,208.8 630.8,207.5 628.3,205.8Z" fill="#ebf6ad"/>
<path d="M512.5,197.5 517.4,196.5 523.2,196.5 527.9,197.6 531.2,198.8 525,201.2 521.2,203.8 517.5,205 514.4,202.5 516.2,201.2 512.5,200Z" fill="#c7e9b4"/>
<path d="M507.5,206.2 510,203.8 514.4,202.5 517.5,205 521.2,205 523.8,208.8 521.2,211.2 520,211.9 517.5,210 513.8,210.6 510,211.2 508.8,208.8Z" fill="#7fcdbb"/>
<path d="M409,168.4 411.2,165.2 415.5,164.1 419.8,163.5 424.2,166.2 426.3,170 425.2,172.7 420.9,174.4 416.6,174.9 411.7,174.9 410.6,176" fill="none"/>
<path d="M418.8,148.1 418.8,152" fill="none"/>
<path d="M462.2,200.2 465.4,200.5 467.5,202.4" fill="none"/>
<path d="M461.1,207.1 463.8,206.6 466.4,205.5 467.5,204.5" fill="none"/>
<path d="M462.2,188.4 460.1,185.4 457.4,182.4 457.4,177.6 462.1,174.7 469.1,174.7 476.2,175.9 484.4,175.9 482.1,173.5 483.2,171.2 482.1,168.8 488,167.6 496.2,165.3 502.1,167.6 506.8,168.8 511.5,167.6 516.2,170.6 522.1,174.7 527.9,175.9 535,178.8 539.1,180.6" fill="none"/>
<path d="M539.1,180.6 544.4,177.6 549.1,177.6 555,178.8 560,174.5 569,177 578,177.8 587,179.2 596,178.5 599,177.8" fill="none"/>
<path d="M539.1,180.6 535,183.5" fill="none"/>
<path d="M475.5,200.5 478.5,198.5 479.2,195 478.5,191.2 483.2,190 490.3,192.9 496.2,194.7 500.9,195.3 504.4,198.8 509.1,200.6 512.6,197.6" fill="none"/>
<path d="M478.8,197.8 485.6,197.5 490.3,200 496.2,204.7 502.1,208.2 505.6,209.4 507.5,206.2" fill="none"/>
<path d="M509.1,200.6 512.5,200" fill="none"/>
<path d="M478.5,210.6 485.6,209.4 492.6,211.8 496.2,216.2" fill="none"/>
<path d="M502.5,212.5 505.6,209.4" fill="none"/>
<path d="M457.9,209.8 461.2,211.2 462.5,216.2 462.5,220 464.4,222 468.2,225.8 469.5,229.6 470.6,230.4" fill="none"/>
<path d="M451.2,213.8 452.5,217.5 448.8,221.2" fill="none"/>
<path d="M442.1,211.9 451.2,213.8" fill="none"/>
<path d="M451.2,225 457.5,226.9 460,231.5 463.8,232.4 467,232.1 470.1,231.5" fill="none"/>
<path d="M461.9,264 470,261.2 476.5,259.3 481.5,258.7 485.3,257.4 487.8,254.9 487.8,249.8 480.9,248.6 479,245.4" fill="none"/>
<path d="M487.8,249.8 489.1,244.2 488.6,241.5" fill="none"/>
<path d="M481.5,258.7 483.7,261.7 487.2,263" fill="none"/>
<path d="M440.6,218.8 442,219" fill="none"/>
<path d="M441.2,221.9 440.3,222.5" fill="none"/>
<path d="M421.7,196.9 422.5,193.5 424.2,189.9 426.6,187.8 429.1,188.5 430.9,189.9 432.6,192.4 434.4,192.4 436.2,191.3 439,192 441.8,193.1 445.3,194.8 448.2,196.9 450.3,199.8 448.9,201.2 446,201.2 443.2,200.5 439.7,199.8 436.2,199.8 432.6,199.4 429.1,200.1 426.3,201.2 423.5,201.2 422.1,199.8Z" fill="#fff"/>
<path d="M435.1,188.5 437.6,187.1 440.4,186.7 441.1,188.1 439,189.9 436.9,190.2Z" fill="#fff"/>
<path d="M460.3,191.2 462.1,188.8 465.6,187.6 469.1,186.5 472.1,187.6 472.6,189.4 470.3,190.6 468.5,192.4 467.9,195.3 469.7,197.6 472.6,198.8 474.4,198.8 475.6,200 477.9,201.2 477.4,202.4 474.4,202.4 472.6,203.5 473.8,205.9 476.2,208.2 477.9,210.6 477.4,212.4 473.8,212.4 470.3,210.6 468.5,207.1 467.4,203.5 465.6,200.6 463.2,197.1 461.5,194.1Z" fill="#fff"/>
<path d="M352.5,158.1 356.2,157.4 357.9,159.2 357.3,161.9 359,164.1 361.7,167.3 364.4,170 366,172.7 366,175.5 362.7,176.5 358.4,177.6 354.6,178.7 351.9,178.4 353.5,176.5 355.2,174.9 353.5,173.3 354.6,171.1 353.5,168.4 353,165.2 351.4,161.9 351.9,159.7Z" fill="#ebf6ad"/>
<path d="M344.9,167.9 347.6,166.2 350.8,166.8 351.9,169.5 350.8,172.2 348.1,173.8 344.9,174.4 343.8,172.2 344.3,170Z" fill="#ebf6ad"/>
<path d="M321.1,140.1 323.2,139.2 325.5,139.9 327.4,140.6 329.8,139.4 332.6,139.2 336.4,138.9 338.2,140.1 338.7,142.2 336.4,143.6 332.6,144.8 329.3,145.5 325.5,145.1 323.2,144.1 323.6,143.2 321.5,142.7 322.7,141.8 321.3,141.3Z" fill="#172673"/>
<path d="M378.2,111.2 383.5,110.6 390.6,110 396,110 401.8,110.6 398.8,111.8 394.1,112.4 392.9,113.5 390.6,115.3 388.2,116.5 385.3,115.9 381.8,113.5Z" fill="#225ea8"/>
<path d="M394.3,114.3 398,114 399.4,115.2 396,116Z" fill="#225ea8"/>
<path d="M390.6,209.6 395.5,209 394.4,211.7 391.1,211.2Z" fill="#ebf6ad"/>
<path d="M380.8,203.1 383,202.5 383.5,206.9 381.4,207.4Z" fill="#ebf6ad"/>
<path d="M381.4,197.7 383,197.1 383,200.9 381.9,201.4Z" fill="#ebf6ad"/>
<path d="M410,213.5 415,213.3 414.5,214.3 410.5,214.5Z" fill="#c7e9b4"/>
<path d="M433.8,217 438.1,216.9 436.5,218.3 434,218.3Z" fill="#ebf6ad"/>
<path d="M384.3,164.2 386.5,164 386.9,166.1 384.5,166.3Z" fill="#7fcdbb"/>
<path d="M447.3,127.6 450.1,121.1 457.6,118.2 467.1,116.4 465.2,119.2 457.6,121.1 452.9,124.8 456.7,129.5 450.1,129.5Z" fill="#ffffd9"/>
<path d="M493.4,108.8 502.8,110.7 508.5,112.6 499,113.5Z" fill="#ffffd9"/>
<path d="M426.6,108.8 436,109 435,110.3 427,110.3Z" fill="#ffffd9"/>
<path d="M573.9,118.5 582.9,119 595.9,120.5 588.1,122.3 576,121Z" fill="#ffffd9"/>
<path d="M639.5,168 650,178.5 656,187.5 653.8,188.2 648.5,181.5 641,171Z" fill="#ffffd9"/>
<path d="M655.8,190.8 659.2,192.1 662.5,193.8 665,193.3 666.7,195.4 664.2,196.7 662.5,197.9 660,198.3 659.2,200 657.5,200 656.7,197.5 656.7,194.2Z" fill="#ffffd9"/>
<path d="M659.2,200.8 661.7,201.3 663.3,201.7 665,204.2 665.8,207.5 666.7,210.8 667.9,215 667.1,216.7 664.2,217.5 660.8,219.2 658.3,220.8 655,219.2 652.5,219.2 650,220.8 648.3,221.7 646.7,221.7 648.3,219.6 651.7,216.7 655,215.8 657.5,214.2 657.9,211.7 660,210 661.3,207.5 660.8,205 660,202.5Z" fill="#ffffd9"/>
<path d="M653.3,220 656.7,219.2 657.5,221.7 654.2,222.1Z" fill="#ffffd9"/>
<path d="M646.7,221.7 648.8,220.8 650.8,221.7 652.1,225 651.3,227.5 649.6,227.1 648.3,224.2 647.1,222.9Z" fill="#ffffd9"/>
<path d="M546.9,283.8 548.8,283.1 550.6,286.2 551.2,290.6 548.8,293.1 546.9,291.2 546.2,287.5Z" fill="#1d91c0"/>
<path d="M609.5,256.5 613.2,255.8 614,258.8 611,261 608.8,259.5Z" fill="#ebf6ad"/>
<path d="M634.2,243 636.5,242.2 636.5,249 634.2,250.5 633.5,246.8Z" fill="url(#hatch)"/>
<path d="M637,261 640,260 642,265 641,271 645,275 643,277 639,274 638,268Z" fill="#c7e9b4"/>
<path d="M644,285 650,283 654,287 653,293 648,291 645,290Z" fill="#c7e9b4"/>
<path d="M642,276 647,275 651,279 652,283 648,282 644,280Z" fill="#c7e9b4"/>
<path d="M632,285 637,279 637.8,279.8 633,286Z" fill="#c7e9b4"/>
<path d="M614.7,304.7 617.6,303.5 622.4,301.8 625.9,300.6 628,297 630.5,293 633.4,291.5 636.5,294 637.3,295.4 634.7,297.9 632.9,301.2 635.3,305.3 633.5,307.1 631.8,310.6 631.2,315.3 629.4,318.8 625.9,318.2 621.2,317.1 617.6,315.3 615.9,311.8 614.1,308.2Z" fill="#ebf6ad"/>
<path d="M614.7,304.7 617.6,303.5 622.4,301.8 625.9,300.6 628,297 630.5,293 633.4,291.5 636.5,294 637.3,295.4 634.7,297.9 632.9,301.2 629.4,301.2 625.9,302.9 621.2,304.1 616.5,305.3Z" fill="#ffffd9"/>
<path d="M582,295 588,296 594,303 600,309 605,315 608,321 607,324 603,323 598,317 592,309 586,302 582.4,297Z" fill="#ebf6ad"/>
<path d="M605.9,324.7 611.8,325.9 617.6,327.1 623.5,328.8 628.2,330 627.6,331.2 621.2,330.6 615.3,328.8 609.4,327.6 606.5,326.5Z" fill="#ebf6ad"/>
<path d="M631.2,331 635.3,331.3 635,332.3 631.5,332.2Z" fill="#ebf6ad"/>
<path d="M637.6,307.1 640.6,305.9 644.7,305.9 649.4,305.3 651.8,304.7 650.6,306.5 647.1,307.6 643.5,308.2 641.8,310.6 643.5,311.8 647.1,310.6 646.5,312.4 644.1,314.1 645.3,317.6 647.1,321.2 645.9,322.9 643.5,320 641.8,317.6 640.6,322.4 638.8,322.9 638.2,318.8 637.6,314.1 637.6,310.6Z" fill="#ebf6ad"/>
<path d="M664.1,311.2 667.6,310 671.8,311.8 672.4,314.7 676.5,314.1 680,313.5 684.7,314.7 687.8,316.1 687.8,332.9 684.7,331.8 681.2,329.4 678.2,324.7 675.3,321.2 671.8,320 668.8,317.6 668.2,315.3 667.1,313.5Z" fill="#ebf6ad"/>
<path d="M653.5,317.6 656.5,316.5 661.2,316.5 664.1,318.2 658.8,318.2Z" fill="#ebf6ad"/>
<path d="M657.1,303.5 658.2,302.9 658.8,306.5 657.6,310.6 657.1,307.1Z" fill="#ebf6ad"/>
<path d="M723,325.5 725.5,327 725.3,328 723,327Z" fill="#1d91c0"/>
<path d="M732.5,333 735,334.5 735.2,336.3 733,335Z" fill="#1d91c0"/>
<path d="M637.6,330.4 641,330.2 645.3,330.8 644.5,332 638,331.8Z" fill="#ebf6ad"/>
<path d="M636.5,333.6 639.5,333.8 640,334.8 637,334.8Z" fill="#ebf6ad"/>
<path d="M647.1,333.3 651,331.8 655.3,330.4 655.8,331.3 651.5,333.3 647.8,334.5Z" fill="#ebf6ad"/>
<path d="M671.8,323.5 673,323.6 672.8,326.5 671.7,326.3Z" fill="#ebf6ad"/>
<path d="M687.8,316.1 694.2,318.6 699.4,323.8 704.6,329 708.5,335.5 702,334.2 696.8,330.3 691.6,331.6 687.8,332.9Z" fill="#1d91c0"/>
<path d="M704.5,323.5 709,322 712.5,319.5 713.5,316 715,317 714.5,320.5 711,323.5 706,325Z" fill="#1d91c0"/>
<path d="M718.5,322.3 720,322.8 721.5,325 720.3,325.3Z" fill="#1d91c0"/>
<path d="M727,328.5 730.5,330 731,331.5 728,330.5Z" fill="#1d91c0"/>
<path d="M341.2,225 342.5,225 346.2,220 350,215 355,214.4 358.8,213.8 367.5,212.5 375,211.9 380,211.9 383.8,211.9 385,216.2 387.5,221.2 392.5,223.8 398.8,225 405,228.1 407.5,225 415,223.8 418.1,226.2 422.5,226.9 430,226.9 437.5,226.9 440.3,228.5 440.6,231.5 439,234.5 437,231.5 435.5,231 434.5,232.5 438.8,237.5 442.5,243.8 445,248.8 446.2,251.2 447.5,255 448.8,260 447.9,262 450.1,262.5 454.3,266.2 456.8,271 460.3,275.1 462.1,276.8 462.7,278 468.5,279.8 474.3,279.2 480.2,277.4 479.6,283.8 476.7,290.8 473.2,296.7 468.5,302.5 463.8,308.3 459.2,311.8 456.8,315.3 454.5,320 454,326 454,333 455,341 455,347 447,353 441,359 441,365 442,371 439,375 435,377 433,381 429,387 423,393 415,397 407,399 403,397 401,389 402,384 397,375 393,365 390,357 390,354 391,345 392,335 392,329 392,324 392,322.5 391,321 388,319 385,315 384,310 384.6,306.6 385,303.2 383.7,299 381.6,294.8 377.4,296.9 374.2,294.8 371,292.6 369.4,291.6 366.2,292.1 363.8,292.5 357.5,295.6 356.2,295 350.9,295.3 345,296.2 341.2,293.8 337.5,290 335,288.8 332.5,286.2 332.5,283.8 329.4,280 326.2,278.1 325,276.2 325,275 323.8,272.5 322.5,270 327.5,266.2 326.2,260 325,252.5 327.5,246.2 331.2,240 335,236.2 341.2,230Z" fill="#ffffd9"/>
<path d="M341.2,225 342.5,225 346.2,220 350,215 355,214.4 358.8,217.5 360,222.5 356.2,225.6 352.5,228.1 347.5,231.2 343.8,233.8 343.1,237 335,236.2 341.2,230Z" fill="#ebf6ad"/>
<path d="M335,236.2 343.1,237 343.1,240.6 333.8,241.2 333.1,251.9 325,252.5 327.5,246.2 331.2,240Z" fill="url(#hatch)"/>
<path d="M343.1,240.6 343.1,237 350,243.1 349.8,250 350,267.5 343,268.5 336.2,269.4 333.8,266.9 327.5,266.2 326.2,260 325,252.5 333.1,251.9 333.8,241.2Z" fill="#ebf6ad"/>
<path d="M380,211.9 383.8,211.9 385,216.2 387.5,221.2 386.2,225 384.4,229.4 382.5,222.5 380,218.8Z" fill="#ebf6ad"/>
<path d="M350,243.1 361.2,250 368.8,255 372.5,258.1 372.1,266.2 365.7,269.4 360.4,270.4 356.2,272.5 351.9,276.8 350.9,281 348.8,281.5 343.8,282.5 342.5,277.5 336.2,276.2 336.2,269.4 343,268.5 350,267.5 349.8,250Z" fill="#225ea8"/>
<path d="M322.5,270 327.5,266.2 333.8,266.9 336.2,269.4 336.2,276.2 330,275.6 325,275 323.8,272.5Z" fill="#c7e9b4"/>
<path d="M325,276.2 330,276.2 329.4,278.8 326.2,278.1Z" fill="#172673"/>
<path d="M330,276.2 336.2,276.2 342.5,277.5 343.8,282.5 341.2,286.2 338.8,283.8 336.2,282.5 332.5,283.8 329.4,280 329.4,278.8Z" fill="#225ea8"/>
<path d="M332.5,283.8 336.2,282.5 338.1,286.2 335,288.8 332.5,286.2Z" fill="#253494"/>
<path d="M338.1,286.2 341.2,286.2 343.8,288.8 345,296.2 341.2,293.8 337.5,290Z" fill="#081d58"/>
<path d="M343.8,282.5 348.8,281.5 350.9,281 350.9,282.6 355.6,283.1 356.2,287.4 356.2,295 350.9,295.3 345,296.2 343.8,288.8 341.2,286.2Z" fill="#41b6c4"/>
<path d="M350.9,281 351.9,276.8 356.2,272.5 360.4,270.4 365.7,269.4 364.6,272.5 366.8,275.7 364.6,278.9 362.5,280 356.2,280.5 355.6,283.1 350.9,282.6Z" fill="#253494"/>
<path d="M356.2,280.5 362.5,280 363.1,285.2 364.6,291.6 363.8,292.5 357.5,295.6 356.2,295 356.2,287.4Z" fill="#7fcdbb"/>
<path d="M362.5,280 365.2,280 365.7,291.6 364.6,291.6 363.1,285.2Z" fill="#253494"/>
<path d="M365.2,280 365.2,278.9 367.8,276.8 371,277.8 369.9,283.1 369.4,291.6 366.2,292.1 365.7,291.6Z" fill="#1d91c0"/>
<path d="M372.1,258.8 372.5,258.1 381.2,251.2 390,248.1 393.8,248.8 397.5,247.5 396.4,250.3 397.5,256.6 396.4,266.2 394.3,271.5 394.3,273.6 387.9,274.6 381.6,273.6 375.2,272.5 371,274.6 367.8,276.8 366.8,275.7 364.6,272.5 365.7,269.4 372.1,266.2Z" fill="#253494"/>
<path d="M371,274.6 375.2,272.5 381.6,273.6 387.9,274.6 394.3,273.6 396.4,277.8 392.2,282.1 389,290.5 384.8,292.6 381.6,294.8 377.4,296.9 374.2,294.8 371,292.6 369.4,291.6 369.9,283.1 371,277.8 367.8,276.8Z" fill="#1d91c0"/>
<path d="M394.3,273.6 396.4,277.8 395.9,283.1 397.5,287.4 398.5,291.6 399.6,296.9 400,301.2 397,301 395,304 390,303.4 389.5,303.2 385,303.2 383.7,299 381.6,294.8 384.8,292.6 389,290.5 392.2,282.1Z" fill="#253494"/>
<path d="M397.5,247.5 407.5,251.9 415,255.6 417.6,256.6 417.8,264.1 416.2,268.3 415.1,272.5 414.1,276.8 413.4,281 407,285.2 400.6,287.4 397.5,287.4 395.9,283.1 396.4,277.8 394.3,273.6 394.3,271.5 396.4,266.2 397.5,256.6 396.4,250.3Z" fill="#225ea8"/>
<path d="M417.6,256.6 418.8,256.9 418.8,251.9 446,251.5 447.5,255 448.8,260 447.9,262 446.9,265.1 445.8,270.4 443.7,275.7 440.5,281 438.4,277.8 437.4,280 435.2,282.1 430,283.6 426.8,282.6 422.5,282.1 419.4,285.2 417.2,281 414.1,276.8 415.1,272.5 416.2,268.3 417.8,264.1Z" fill="#225ea8"/>
<path d="M419.4,285.2 422.5,282.1 426.8,282.6 430,283.6 435.2,282.1 437.4,280 438.2,276.8 439.3,282.7 440.5,287.3 441.7,292 444,295.5 442.8,296.7 437,297.8 433.5,299 430,297.8 428.9,296.9 425.7,294.8 422.5,291.6Z" fill="#7fcdbb"/>
<path d="M398.5,291.6 397.5,287.4 400.6,287.4 407,285.2 413.4,281 414.1,276.8 417.2,281 419.4,285.2 422.5,291.6 425.7,294.8 419.7,293.7 415.5,295.8 409.1,296.9 404.9,296.9 402.8,300.1 400,301.2 399.6,296.9Z" fill="#172673"/>
<path d="M447.5,262.8 451,264 456.8,271 460.3,275.1 458,273.3 453.3,271 447.5,270.4 446.9,265.1Z" fill="#172673"/>
<path d="M458,273.3 460.3,275.1 462.1,276.8 461.5,279.2 459.2,279.2 458.6,276.8Z" fill="#7fcdbb"/>
<path d="M440.5,287.3 440.5,281 441.7,279.2 443.7,275.7 445.2,272.2 447.5,270.4 453.3,271 458,273.3 458.6,276.8 459.2,279.2 463.8,283.8 472,287.3 467.3,292 462.7,295.5 458,297.8 452.2,299 447.5,297.8 444,295.5 441.7,292Z" fill="#172673"/>
<path d="M459.2,279.2 461.5,279.2 462.7,278 468.5,279.8 474.3,279.2 480.2,277.4 479.6,283.8 476.7,290.8 473.2,296.7 468.5,302.5 463.8,308.3 459.2,311.8 458,310.7 458,300.2 462.7,295.5 467.3,292 472,287.3 463.8,283.8Z" fill="#172673"/>
<path d="M444,295.5 447.5,297.8 452.2,299 458,297.8 458,300.2 458,310.7 459.2,311.8 456.8,315.3 454.5,320 447.5,315.3 443,311 443,303 441.7,300.2 442.8,296.7Z" fill="#225ea8"/>
<path d="M436.3,299 439.5,295.8 442.5,300 443,303 443,311 433,311 433,307 433,298Z" fill="#081d58"/>
<path d="M404.9,296.9 409.1,296.9 415.5,295.8 419.7,293.7 425.7,294.8 428.9,296.9 433,298 433,307 431,315 432,325 429,331 428,337 430,340 425,340 418,338 413,339 413,331 411,328 405,328 399,327 395,324 399,323 403,315 405,305 405.5,300Z" fill="#081d58"/>
<path d="M395,304 397,301 400,301.2 402.8,300.1 404.9,296.9 405.5,300 405,305 403,315 399,323 395,324 392,322.5 391,321 394,317 397,315 396,311 397,306Z" fill="#253494"/>
<path d="M384.6,306.6 389,306 390,303.4 395,304 397,306 396,311 397,315 394,317 391,321 388,319 385,315 384,310Z" fill="#081d58"/>
<path d="M385,303.2 389.5,303.2 389,306 384.6,306.6Z" fill="#ffffd9"/>
<path d="M433,311 443,311 447.5,315.3 454.5,320 454,326 454,333 455,340 451,338 444,339 439,333 435,331 432,331 429,331 432,325 431,315Z" fill="#253494"/>
<path d="M392,324 395,324 399,327 405,328 411,328 413,331 413,339 418,338 416,343 414,353 405,354 395,354 390,354 391,345 392,335 392,329Z" fill="#41b6c4"/>
<path d="M414,344 416,343 418,338 425,340 430,340 428,337 429,331 432,331 435,331 439,333 439,343 434,349 429,351 423,355 415,355 414,353Z" fill="#172673"/>
<path d="M439,333 441,334 442.5,342.5 443.8,347.5 442.5,352.5 440,348.8 439,343Z" fill="#253494"/>
<path d="M441,334 444,339 451,338 455,340 455,347 447,353 441,359 441,365 442,371 439,375 435,377 434,369 437,361 437,353 434,349 439,343 440,348.8 442.5,352.5 443.8,347.5 442.5,342.5Z" fill="#253494"/>
<path d="M423,355 429,351 434,349 437,353 437,361 433,365 428,365 424,360Z" fill="#225ea8"/>
<path d="M390,354 405,354 414,353 415,355 423,355 411,355.5 411,357 410,362 409,369 410,378 407,383 402,384 397,375 393,365 390,357Z" fill="#7fcdbb"/>
<path d="M411,355 423,355 424,360 428,365 423,369 415,373 410,378 409,369 410,362 411,357Z" fill="#7fcdbb"/>
<path d="M423,385 426.5,383.5 428,386 425,388Z" fill="#7fcdbb"/>
<path d="M432,376.5 434.5,376 435,378.5 432.8,379.3Z" fill="#225ea8"/>
<path d="M384.4,229.4 383.8,240 386.9,244.4 390,248.1" fill="none"/>
<path d="M418.1,226.2 418.8,237.5 418.8,251.9" fill="none"/>
<path d="M431.5,312.5 434,312.5" fill="none"/>
<path d="M431.3,315.5 434,315.5" fill="none"/>
<path d="M476,341 478,345 476,351 473,359 470,367 467,373 463,375 461,371 461,365 464,357 466,353 471,349 474,345Z" fill="#172673"/>
<circle cx="305.8" cy="265.5" r="0.45" fill="#9ab" stroke="none"/>
<circle cx="307.5" cy="267.5" r="0.45" fill="#9ab" stroke="none"/>
<circle cx="309.5" cy="264.5" r="0.45" fill="#9ab" stroke="none"/>
<circle cx="461.5" cy="339.5" r="0.45" fill="#7a8" stroke="none"/>
<circle cx="462.6" cy="340.5" r="0.45" fill="#7a8" stroke="none"/>
<circle cx="492.6" cy="361.5" r="0.45" fill="#aab" stroke="none"/>
<circle cx="487.5" cy="367" r="0.45" fill="#aab" stroke="none"/>
<circle cx="384.4" cy="307.5" r="0.45" fill="#cc9" stroke="none"/>
</g>
<rect x="166.0" y="516.5" width="58.5" height="12" fill="#ffffd9" stroke="#777" stroke-width="0.5"/>
<rect x="224.5" y="516.5" width="58.5" height="12" fill="#ebf6ad" stroke="#777" stroke-width="0.5"/>
<rect x="283.0" y="516.5" width="58.5" height="12" fill="#c7e9b4" stroke="#777" stroke-width="0.5"/>
<rect x="341.5" y="516.5" width="58.5" height="12" fill="#7fcdbb" stroke="#777" stroke-width="0.5"/>
<rect x="400.0" y="516.5" width="58.5" height="12" fill="#41b6c4" stroke="#777" stroke-width="0.5"/>
<rect x="458.5" y="516.5" width="58.5" height="12" fill="#1d91c0" stroke="#777" stroke-width="0.5"/>
<rect x="517.0" y="516.5" width="58.5" height="12" fill="#225ea8" stroke="#777" stroke-width="0.5"/>
<rect x="575.5" y="516.5" width="58.5" height="12" fill="#253494" stroke="#777" stroke-width="0.5"/>
<rect x="634.0" y="516.5" width="58.5" height="12" fill="#172673" stroke="#777" stroke-width="0.5"/>
<rect x="692.5" y="516.5" width="58.5" height="12" fill="#081d58" stroke="#777" stroke-width="0.5"/>
<line x1="166.0" y1="514.2" x2="166.0" y2="517" stroke="#666" stroke-width="0.8"/>
<text x="166.0" y="510.2" text-anchor="middle" class="lg">0%</text>
<line x1="224.5" y1="514.2" x2="224.5" y2="517" stroke="#666" stroke-width="0.8"/>
<text x="224.5" y="510.2" text-anchor="middle" class="lg">10%</text>
<line x1="283.0" y1="514.2" x2="283.0" y2="517" stroke="#666" stroke-width="0.8"/>
<text x="283.0" y="510.2" text-anchor="middle" class="lg">20%</text>
<line x1="341.5" y1="514.2" x2="341.5" y2="517" stroke="#666" stroke-width="0.8"/>
<text x="341.5" y="510.2" text-anchor="middle" class="lg">30%</text>
<line x1="400.0" y1="514.2" x2="400.0" y2="517" stroke="#666" stroke-width="0.8"/>
<text x="400.0" y="510.2" text-anchor="middle" class="lg">40%</text>
<line x1="458.5" y1="514.2" x2="458.5" y2="517" stroke="#666" stroke-width="0.8"/>
<text x="458.5" y="510.2" text-anchor="middle" class="lg">50%</text>
<line x1="517.0" y1="514.2" x2="517.0" y2="517" stroke="#666" stroke-width="0.8"/>
<text x="517.0" y="510.2" text-anchor="middle" class="lg">60%</text>
<line x1="575.5" y1="514.2" x2="575.5" y2="517" stroke="#666" stroke-width="0.8"/>
<text x="575.5" y="510.2" text-anchor="middle" class="lg">70%</text>
<line x1="634.0" y1="514.2" x2="634.0" y2="517" stroke="#666" stroke-width="0.8"/>
<text x="634.0" y="510.2" text-anchor="middle" class="lg">80%</text>
<line x1="692.5" y1="514.2" x2="692.5" y2="517" stroke="#666" stroke-width="0.8"/>
<text x="692.5" y="510.2" text-anchor="middle" class="lg">90%</text>
<line x1="751.0" y1="514.2" x2="751.0" y2="517" stroke="#666" stroke-width="0.8"/>
<text x="751.0" y="510.2" text-anchor="middle" class="lg">100%</text>
<defs><pattern id="hatch" width="4" height="4" patternUnits="userSpaceOnUse" patternTransform="rotate(45)"><rect width="4" height="4" fill="#fafafa"/><line x1="0" y1="0" x2="0" y2="4" stroke="#d6d6d6" stroke-width="1.1"/></pattern></defs>
<rect x="98.5" y="516.5" width="48" height="12" fill="url(#hatch)" stroke="#bbb" stroke-width="0.7"/>
<line x1="122.5" y1="514.2" x2="122.5" y2="517" stroke="#666" stroke-width="0.8"/>
<text x="122.5" y="510.2" text-anchor="middle" class="lg">No data</text>
</svg>
<div class="foot" id="f1" style="top:549.5px"><b>Data source:</b> United Nations Statistics Division and International Energy Agency and International Renewable Energy Agency</div>
<div class="foot" id="f2" style="top:569.5px;font-size:13px">OurWorldinData.org/renewable-energy | CC BY</div>
</body></html>
